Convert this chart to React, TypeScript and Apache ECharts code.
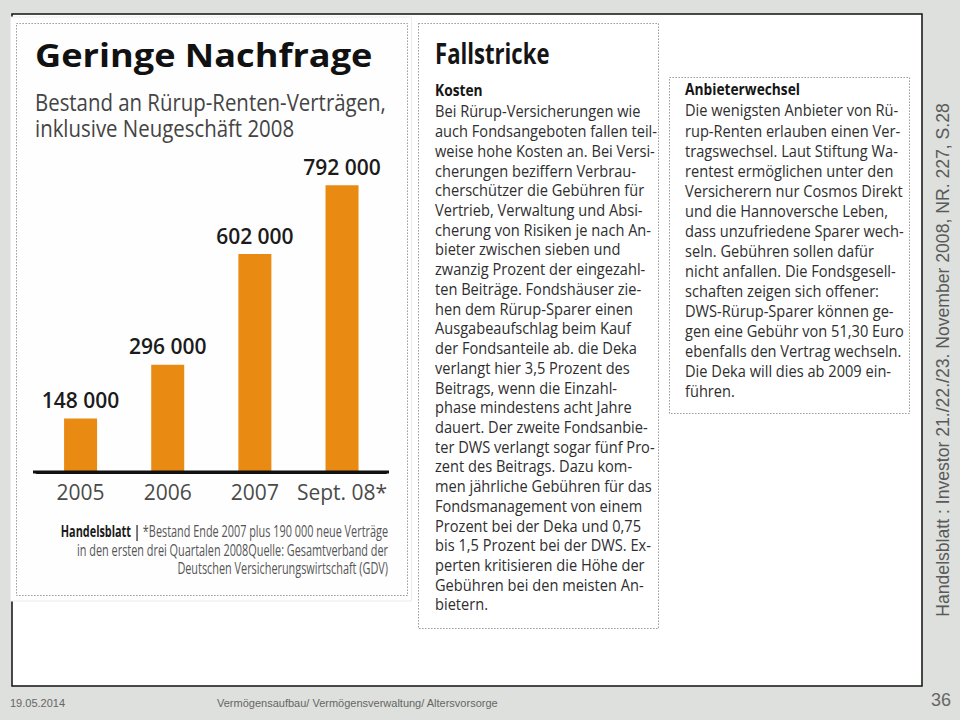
import React, { useEffect, useRef } from "react";
import * as echarts from "echarts";

// ---- chart data ----
const categories = ["2005", "2006", "2007", "Sept. 08*"];
const contracts = [148000, 296000, 602000, 792000];

// ---- texts ----
const chartTitle = "Geringe Nachfrage";
const chartSubtitle = ["Bestand an Rürup-Renten-Verträgen,", "inklusive Neugeschäft 2008"];
const footnoteLines = [
  "{b|Handelsblatt |} {n|*Bestand Ende 2007 plus 190 000 neue Verträge}",
  "{n|in den ersten drei Quartalen 2008Quelle: Gesamtverband der}",
  "{n|Deutschen Versicherungswirtschaft (GDV)}",
];
const sideTitle = "Fallstricke";
const kostenHeading = "Kosten";
const kostenLines = [
  "Bei Rürup-Versicherungen wie",
  "auch Fondsangeboten fallen teil-",
  "weise hohe Kosten an. Bei Versi-",
  "cherungen beziffern Verbrau-",
  "cherschützer die Gebühren für",
  "Vertrieb, Verwaltung und Absi-",
  "cherung von Risiken je nach An-",
  "bieter zwischen sieben und",
  "zwanzig Prozent der eingezahl-",
  "ten Beiträge. Fondshäuser zie-",
  "hen dem Rürup-Sparer einen",
  "Ausgabeaufschlag beim Kauf",
  "der Fondsanteile ab. die Deka",
  "verlangt hier 3,5 Prozent des",
  "Beitrags, wenn die Einzahl-",
  "phase mindestens acht Jahre",
  "dauert. Der zweite Fondsanbie-",
  "ter DWS verlangt sogar fünf Pro-",
  "zent des Beitrags. Dazu kom-",
  "men jährliche Gebühren für das",
  "Fondsmanagement von einem",
  "Prozent bei der Deka und 0,75",
  "bis 1,5 Prozent bei der DWS. Ex-",
  "perten kritisieren die Höhe der",
  "Gebühren bei den meisten An-",
  "bietern.",
];
const wechselHeading = "Anbieterwechsel";
const wechselLines = [
  "Die wenigsten Anbieter von Rü-",
  "rup-Renten erlauben einen Ver-",
  "tragswechsel. Laut Stiftung Wa-",
  "rentest ermöglichen unter den",
  "Versicherern nur Cosmos Direkt",
  "und die Hannoversche Leben,",
  "dass unzufriedene Sparer wech-",
  "seln. Gebühren sollen dafür",
  "nicht anfallen. Die Fondsgesell-",
  "schaften zeigen sich offener:",
  "DWS-Rürup-Sparer können ge-",
  "gen eine Gebühr von 51,30 Euro",
  "ebenfalls den Vertrag wechseln.",
  "Die Deka will dies ab 2009 ein-",
  "führen.",
];
const sourceVertical = "Handelsblatt : Investor 21./22./23. November 2008, NR. 227, S.28";
const footerDate = "19.05.2014";
const footerTopic = "Vermögensaufbau/ Vermögensverwaltung/ Altersvorsorge";
const pageNumber = "36";

const NEWS_FONT = '"Open Sans", "Noto Sans", sans-serif';
const SLIDE_FONT = '"Liberation Sans", Arial, sans-serif';

function spaced(v: number): string {
  return String(v).replace(/\B(?=(\d{3})+(?!\d))/g, " ");
}

function dottedRect(x: number, y: number, w: number, h: number) {
  return {
    type: "rect",
    shape: { x, y, width: w, height: h },
    style: { fill: "none", stroke: "#8a8a8a", lineWidth: 1, lineDash: [1.3, 1.7] },
  };
}

function textBlock(
  x: number,
  y0: number,
  step: number,
  lines: string[],
  scaleX: number,
  fontSize: number,
  color: string
) {
  return {
    type: "group",
    x,
    y: 0,
    scaleX,
    children: lines.map((t, i) => ({
      type: "text",
      x: 0,
      y: y0 + i * step,
      style: {
        text: t,
        fontFamily: NEWS_FONT,
        fontSize,
        fill: color,
        verticalAlign: "middle",
        align: "left",
      },
    })),
  };
}

export default function App() {
  const ref = useRef<HTMLDivElement>(null);

  useEffect(() => {
    document.body.style.margin = "0";
    if (!ref.current) return;
    const chart = echarts.init(ref.current, undefined, { renderer: "svg" });

    const graphic: any[] = [
      // slide frame
      {
        type: "rect",
        shape: { x: 12, y: 14, width: 910, height: 672 },
        style: { fill: "#ffffff", stroke: "#111111", lineWidth: 1.5 },
      },
      // first clipping paper (covers the frame's left edge)
      {
        type: "rect",
        shape: { x: 10.5, y: 17, width: 401, height: 584 },
        style: { fill: "#fefefe", stroke: "#ececec", lineWidth: 1 },
      },
      dottedRect(16.5, 23.5, 391, 572),
      dottedRect(418.5, 23.5, 240, 605),
      dottedRect(669.5, 77.5, 240, 336),
      // baseline of the bar chart, slightly wider than the plot
      {
        type: "line",
        shape: { x1: 33, y1: 472, x2: 389, y2: 472 },
        style: { stroke: "#111111", lineWidth: 3 },
        z: 10,
      },
      // chart title
      {
        type: "text",
        x: 35,
        y: 55,
        scaleX: 1.13,
        style: {
          text: chartTitle,
          fontFamily: NEWS_FONT,
          fontWeight: "bold",
          fontSize: 32,
          fill: "#111111",
          verticalAlign: "middle",
        },
      },
      {
        type: "group",
        x: 35,
        scaleX: 0.85,
        children: chartSubtitle.map((t, i) => ({
          type: "text",
          x: 0,
          y: 102 + i * 26,
          style: {
            text: t,
            fontFamily: NEWS_FONT,
            fontSize: 24,
            fill: "#444444",
            verticalAlign: "middle",
          },
        })),
      },
      // footnote
      {
        type: "group",
        x: 388,
        scaleX: 0.68,
        children: footnoteLines.map((t, i) => ({
          type: "text",
          x: 0,
          y: 531 + i * 18.5,
          style: {
            text: t,
            align: "right",
            verticalAlign: "middle",
            fontFamily: NEWS_FONT,
            fontSize: 16,
            rich: {
              b: { fontFamily: NEWS_FONT, fontSize: 16, fontWeight: "bold", fill: "#1a1a1a" },
              n: { fontFamily: NEWS_FONT, fontSize: 16, fill: "#555555" },
            },
          },
        })),
      },
      // Fallstricke column
      {
        type: "text",
        x: 435,
        y: 53,
        scaleX: 0.79,
        style: {
          text: sideTitle,
          fontFamily: NEWS_FONT,
          fontWeight: "bold",
          fontSize: 28,
          fill: "#151515",
          verticalAlign: "middle",
        },
      },
      {
        type: "text",
        x: 435,
        y: 90,
        scaleX: 0.86,
        style: {
          text: kostenHeading,
          fontFamily: NEWS_FONT,
          fontWeight: "bold",
          fontSize: 16,
          fill: "#151515",
          verticalAlign: "middle",
        },
      },
      textBlock(435, 111, 19.72, kostenLines, 0.86, 17, "#2e2e2e"),
      {
        type: "text",
        x: 685,
        y: 89,
        scaleX: 0.86,
        style: {
          text: wechselHeading,
          fontFamily: NEWS_FONT,
          fontWeight: "bold",
          fontSize: 16,
          fill: "#151515",
          verticalAlign: "middle",
        },
      },
      textBlock(685, 110, 20.07, wechselLines, 0.86, 17, "#2e2e2e"),
      // vertical source
      {
        type: "text",
        x: 943,
        y: 360,
        rotation: Math.PI / 2,
        style: {
          text: sourceVertical,
          fontFamily: SLIDE_FONT,
          fontSize: 17.6,
          fill: "#5a5a5a",
          align: "center",
          verticalAlign: "middle",
        },
      },
      // footer
      {
        type: "text",
        x: 10,
        y: 703,
        style: { text: footerDate, fontFamily: SLIDE_FONT, fontSize: 11, fill: "#666666", verticalAlign: "middle" },
      },
      {
        type: "text",
        x: 217,
        y: 703,
        style: { text: footerTopic, fontFamily: SLIDE_FONT, fontSize: 11, fill: "#666666", verticalAlign: "middle" },
      },
      {
        type: "text",
        x: 951,
        y: 700,
        style: {
          text: pageNumber,
          fontFamily: SLIDE_FONT,
          fontSize: 18,
          fill: "#666666",
          align: "right",
          verticalAlign: "middle",
        },
      },
    ];

    chart.setOption({
      animation: false,
      backgroundColor: "#dde0dc",
      grid: { left: 37, top: 110, width: 348.6, height: 362, containLabel: false },
      xAxis: {
        type: "category",
        data: categories,
        z: 5,
        axisLine: { lineStyle: { color: "#111111", width: 3 } },
        axisTick: { show: false },
        axisLabel: { interval: 0, color: "#4a4a4a", fontSize: 21, fontFamily: NEWS_FONT, margin: 9 },
      },
      yAxis: { type: "value", min: 0, max: 1000000, show: false },
      series: [
        {
          type: "bar",
          data: contracts,
          barWidth: 33,
          z: 2,
          itemStyle: { color: "#e98a12" },
          label: {
            show: true,
            position: "top",
            distance: 8,
            fontSize: 21,
            fontFamily: NEWS_FONT,
            fontWeight: 600,
            color: "#1b1b1b",
            formatter: (p: any) => spaced(p.value),
          },
        },
      ],
      graphic: { elements: graphic },
    });

    return () => chart.dispose();
  }, []);

  return <div ref={ref} style={{ width: 960, height: 720 }} />;
}
